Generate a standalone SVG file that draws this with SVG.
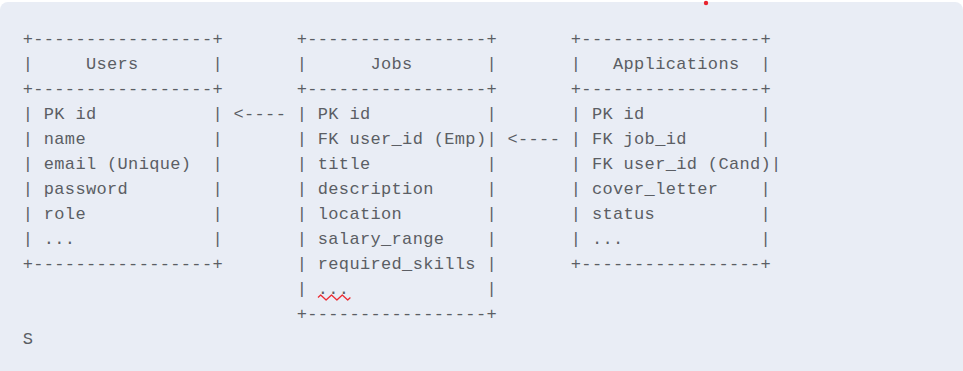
<svg xmlns="http://www.w3.org/2000/svg" width="963" height="371" viewBox="0 0 963 371">
  <style>
    .t { font-family: "Liberation Mono", "DejaVu Sans Mono", monospace; font-size: 17px; letter-spacing: 0.34px; fill: #5b5e64; white-space: pre; }
  </style>
  <!-- code block panel -->
  <rect x="0" y="2" width="963" height="380" rx="8" fill="#e9edf5"/>
  <circle cx="706" cy="3" r="2.2" fill="#e8232e"/>

  <g id="users">
    <text class="t" xml:space="preserve" x="22.7" y="43.5">+-----------------+</text>
    <text class="t" xml:space="preserve" x="22.7" y="68.5">|     Users       |</text>
    <text class="t" xml:space="preserve" x="22.7" y="93.5">+-----------------+</text>
    <text class="t" xml:space="preserve" x="22.7" y="118.5">| PK id           |</text>
    <text class="t" xml:space="preserve" x="22.7" y="143.5">| name            |</text>
    <text class="t" xml:space="preserve" x="22.7" y="168.5">| email (Unique)  |</text>
    <text class="t" xml:space="preserve" x="22.7" y="193.5">| password        |</text>
    <text class="t" xml:space="preserve" x="22.7" y="218.5">| role            |</text>
    <text class="t" xml:space="preserve" x="22.7" y="243.5">| ...             |</text>
    <text class="t" xml:space="preserve" x="22.7" y="268.5">+-----------------+</text>
  </g>

  <g id="jobs">
    <text class="t" xml:space="preserve" x="296.7" y="43.5">+-----------------+</text>
    <text class="t" xml:space="preserve" x="296.7" y="68.5">|      Jobs       |</text>
    <text class="t" xml:space="preserve" x="296.7" y="93.5">+-----------------+</text>
    <text class="t" xml:space="preserve" x="296.7" y="118.5">| PK id           |</text>
    <text class="t" xml:space="preserve" x="296.7" y="143.5">| FK user_id (Emp)|</text>
    <text class="t" xml:space="preserve" x="296.7" y="168.5">| title           |</text>
    <text class="t" xml:space="preserve" x="296.7" y="193.5">| description     |</text>
    <text class="t" xml:space="preserve" x="296.7" y="218.5">| location        |</text>
    <text class="t" xml:space="preserve" x="296.7" y="243.5">| salary_range    |</text>
    <text class="t" xml:space="preserve" x="296.7" y="268.5">| required_skills |</text>
    <text class="t" xml:space="preserve" x="296.7" y="293.5">| ...             |</text>
    <text class="t" xml:space="preserve" x="296.7" y="318.5">+-----------------+</text>
    <!-- spell-check squiggle under the ellipsis -->
    <path d="M318 297.5 l2.7 -2.5 l2.7 2.5 l2.7 2.5 l2.7 -2.5 l2.7 -2.5 l2.7 2.5 l2.7 2.5 l2.7 -2.5 l2.7 -2.5 l2.7 2.5 l2.7 2.5 l2.7 -2.5" fill="none" stroke="#ec2b33" stroke-width="1.3" stroke-linejoin="round"/>
  </g>

  <g id="applications">
    <text class="t" xml:space="preserve" x="570.8" y="43.5">+-----------------+</text>
    <text class="t" xml:space="preserve" x="570.8" y="68.5">|   Applications  |</text>
    <text class="t" xml:space="preserve" x="570.8" y="93.5">+-----------------+</text>
    <text class="t" xml:space="preserve" x="570.8" y="118.5">| PK id           |</text>
    <text class="t" xml:space="preserve" x="570.8" y="143.5">| FK job_id       |</text>
    <text class="t" xml:space="preserve" x="570.8" y="168.5">| FK user_id (Cand)|</text>
    <text class="t" xml:space="preserve" x="570.8" y="193.5">| cover_letter    |</text>
    <text class="t" xml:space="preserve" x="570.8" y="218.5">| status          |</text>
    <text class="t" xml:space="preserve" x="570.8" y="243.5">| ...             |</text>
    <text class="t" xml:space="preserve" x="570.8" y="268.5">+-----------------+</text>
  </g>

  <g id="connectors">
    <text class="t" xml:space="preserve" x="233.5" y="118.5">&lt;----</text>
    <text class="t" xml:space="preserve" x="507.5" y="143.5">&lt;----</text>
  </g>

  <text class="t" x="22.7" y="343.5">S</text>
</svg>
